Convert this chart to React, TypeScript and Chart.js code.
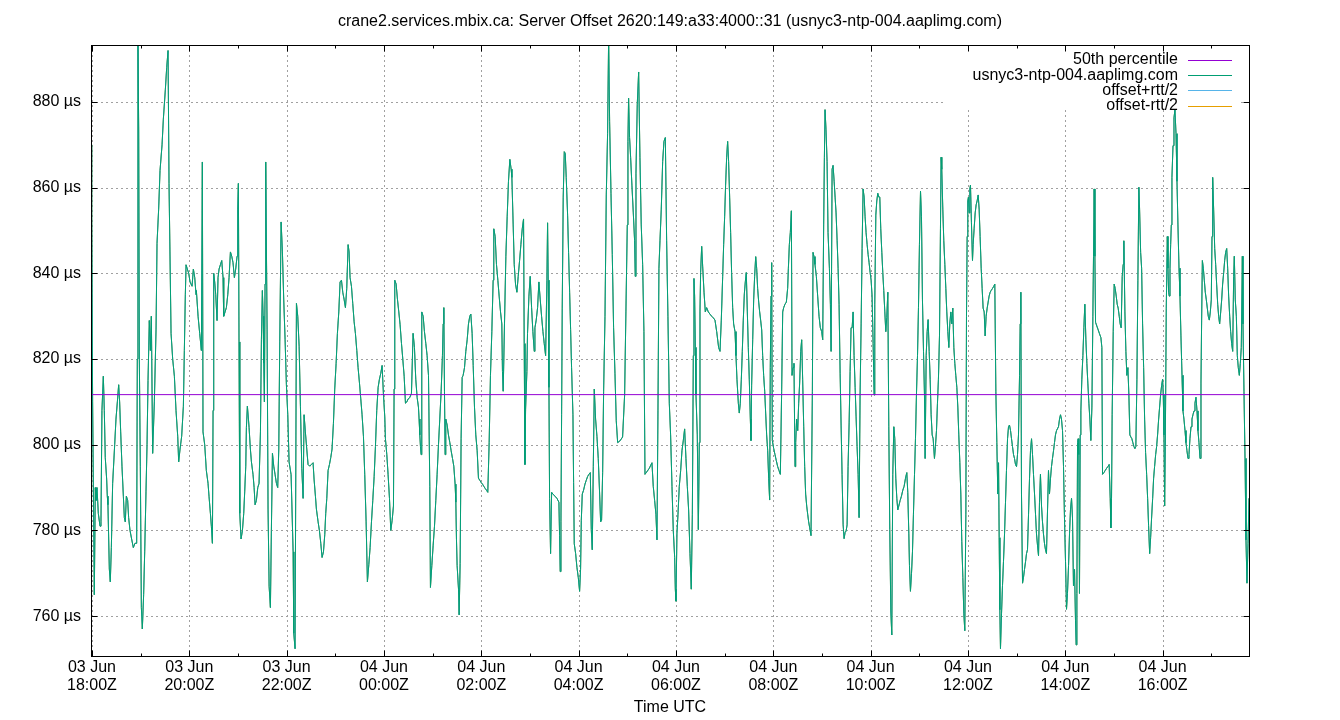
import React, { useEffect, useRef } from "react";
import { Chart, registerables } from "chart.js";

Chart.register(...registerables);

const TITLE =
  "crane2.services.mbix.ca: Server Offset 2620:149:a33:4000::31 (usnyc3-ntp-004.aaplimg.com)";
const X_TITLE = "Time UTC";
const SERIES_NAMES = [
  "50th percentile",
  "usnyc3-ntp-004.aaplimg.com",
  "offset+rtt/2",
  "offset-rtt/2",
];
const SERIES_COLORS = ["#9400d3", "#009e73", "#56b4e9", "#e69f00"];
const FONT = '"Liberation Sans", Arial, Helvetica, sans-serif';

// 50th percentile of the offset, µs
const P50 = 811.7;

// y axis
const Y_MIN = 750.7;
const Y_MAX = 893.3;
const Y_TICKS = [760, 780, 800, 820, 840, 860, 880];

// x axis: minutes since 03 Jun 18:00Z
const X_TICK_MINUTES = [0, 120, 240, 360, 480, 600, 720, 840, 960, 1080, 1200, 1320];
const X_TICK_LABELS = [
  ["03 Jun", "18:00Z"],
  ["03 Jun", "20:00Z"],
  ["03 Jun", "22:00Z"],
  ["04 Jun", "00:00Z"],
  ["04 Jun", "02:00Z"],
  ["04 Jun", "04:00Z"],
  ["04 Jun", "06:00Z"],
  ["04 Jun", "08:00Z"],
  ["04 Jun", "10:00Z"],
  ["04 Jun", "12:00Z"],
  ["04 Jun", "14:00Z"],
  ["04 Jun", "16:00Z"],
];
const X_MINOR_MINUTES = [60, 180, 300, 420, 540, 660, 780, 900, 1020, 1140, 1260, 1380];

// offset samples: [minutes since 03 Jun 18:00Z, offset µs]
const segA = [[-1.2,828],[-0.8,870],[0,853],[0.8,810],[2.9,765],[4.1,790],[4.9,787],[6.2,790],[7.8,784],[9.9,781],[11.1,782],[12.3,808],[14.0,816],[15.2,808],[16.4,797],[18.1,792],[18.9,788],[19.7,786],[21.4,771],[22.6,768],[23.9,776],[25.5,791],[28.0,800],[29.6,806],[31.3,810],[32.9,814],[34.1,810],[35.4,803],[37.0,795],[38.7,788],[39.9,783],[41.1,782],[42.4,788],[44.0,787],[45.2,783],[46.9,780],[48.9,778],[51.0,776],[53.0,777],[55.1,777],[55.9,820],[56.7,895],[57.6,873],[58.4,820],[59.6,795],[60.9,762],[62.1,757],[63.7,765],[65.0,775],[66.6,789],[67.9,800],[69.1,815],[70.7,829],[72.0,822],[73.2,830],[74.8,798],[76.9,810],[79.0,827],[80.2,847],[82.2,855],[83.9,864],[86.4,870],[88.0,876],[90.5,883],[92.1,888],[93.8,892],[95.0,861],[97.5,826],[99.5,820],[101.6,816],[103.6,808],[105.7,802],[106.9,796],[108.6,799],[110.6,802],[112.7,809],[113.9,822],[115.1,835],[116.0,842],[117.6,841],[119.3,840],[120.9,838],[123.4,837],[125.0,841],[126.7,839],[128.3,835]];
const segB = [[128.7,836],[130.8,830],[132.8,826],[134.9,822],[136.1,866],[136.9,803],[139.0,800],[141.0,794],[143.1,791],[144.3,788],[146.0,784],[147.2,781],[148.5,777],[149.3,808],[150.1,840],[151.3,838],[152.6,835],[154.2,829],[155.4,839],[156.7,841],[158.3,842],[160.0,843],[161.6,839],[162.4,830],[164.1,831],[165.7,832],[167.4,835],[169.0,839],[170.7,845],[172.3,844],[173.9,842.5],[175.6,839],[177.2,841],[178.9,844],[179.7,855],[180.5,861],[181.3,824],[182.2,784],[183.8,778],[185.5,780],[187.1,784],[188.3,789],[189.6,795],[190.4,804],[191.6,809],[192.9,806],[193.7,804],[195.3,799],[196.6,796],[198.6,793],[199.9,790],[201.1,786],[202.7,787],[204.4,790],[206.0,791],[207.7,803],[208.9,824.5],[210.1,836],[211.0,830],[211.8,819],[212.6,810],[213.4,837.5],[214.2,866],[215.9,827],[217.1,785],[218.4,767],[220.0,762],[221.2,780],[222.5,798],[224.1,795],[225.8,793],[227.4,791],[229.0,790],[230.3,799],[231.5,824],[233.2,852],[234.8,845],[236.4,834],[238.1,824.5],[239.7,814],[241.4,807],[243.0,796],[245.5,793],[248.0,775],[248.8,756],[250.4,752.4],[252.1,833],[253.7,830],[255.4,823],[257.0,809],[258.7,794.5],[260.3,787.5]];
const segC = [[261.5,807],[263.1,803],[264.8,799],[266.4,795.4],[268.5,795],[270.5,795.4],[272.6,795.8],[273.8,792],[275.5,788],[276.7,785],[278.8,782],[280.4,780],[282.1,777],[283.7,773.7],[285.4,775],[287.0,779],[288.2,784],[289.5,787.5],[291.1,794],[292.8,795.4],[294.4,797],[296.0,799],[297.7,805],[299.3,813],[301.0,819],[302.6,826],[304.3,831],[305.9,838],[307.6,838.4],[309.2,835.6],[310.8,834],[312.5,832],[314.1,836.5],[315.8,846.7],[317.0,845],[318.2,839],[319.9,837],[321.5,833],[323.2,828.7],[324.8,826],[326.5,822],[328.1,818],[329.8,814.4],[331.4,810.7],[333.0,807],[334.7,802],[336.3,793],[338.0,782],[339.6,768],[341.3,772],[342.9,776],[344.6,782],[346.2,787],[347.9,792.6],[349.5,799.6],[351.1,808],[352.8,813.4],[354.4,815.3],[356.1,816.7],[357.7,818.5],[359.4,811.6],[361.0,806.5],[361.8,801.4],[363.5,797.7],[365.1,793],[366.8,787.5],[368.4,780],[370.1,782.4],[371.7,785.7],[372.5,813],[373.3,838.4],[375.0,837.5],[376.6,834],[378.3,831],[379.9,828],[381.6,823.6],[383.2,820],[384.9,816],[386.5,809.7],[388.2,810],[389.8,810.7]];
const segD = [[391.8,811],[393.9,812],[395.9,826],[397.6,822.7],[399.2,815.3],[400.9,811],[402.5,808.8],[403.3,806],[404.2,802.3],[405.0,799.6],[405.8,797.7],[406.6,831],[408.3,830],[409.9,826.4],[411.6,823.6],[413.2,820.8],[414.9,816.2],[416.5,790.3],[417.3,766.7],[419.0,771.8],[420.6,776.4],[422.3,781],[423.9,787],[425.5,793],[427.2,800],[428.8,806],[430.5,812.5],[432.1,820.8],[433.0,828.2],[433.8,832],[434.6,812.5],[435.4,797.7],[436.2,806],[437.9,804.6],[439.5,802.3],[441.2,800.5],[442.8,798.6],[444.5,796.8],[446.1,795],[447.7,790.8],[448.6,786.6],[449.4,777.8],[450.2,771.8],[451.9,766.3],[452.7,760.3],[453.9,772.3],[455.1,801.4],[456.4,815.7],[457.6,816.2],[459.3,818],[460.9,821.8],[462.6,824.5],[464.2,828.2],[465.8,830],[467.1,830.5],[468.7,826],[470.0,818.5],[471.6,808.8],[473.2,802.3],[474.9,798.6],[476.5,792.2],[478.2,791.7],[479.8,791.2],[481.5,790.8],[483.1,790.3],[484.8,789.8],[486.4,789.4],[488.0,788.9],[489.7,800.5],[491.3,816.2],[493.0,826.4],[494.6,838.4],[495.4,850.4],[497.1,848.6],[498.7,842.1],[500.4,838.4],[502.0,834.7],[503.7,831],[505.3,828.2],[506.1,817.1],[507.0,812.5],[508.6,828.2],[510.3,844],[511.9,853.2],[513.5,861.5],[515.2,866.6],[516.8,864.3],[517.7,862.4],[519.3,851.3]];
const segE = [[520.6,842.1],[522.2,837.5],[523.9,835.6],[525.5,839.3],[527.2,843],[528.8,846.7],[530.5,850.4],[532.1,852.7],[532.9,823.6],[533.8,795.4],[534.6,808.3],[536.2,817.1],[537.0,826],[538.7,834.7],[540.3,839.3],[542.0,832],[543.6,826.4],[545.3,821.8],[546.1,827.3],[547.7,829.1],[549.4,832],[551.0,838],[552.7,833.8],[554.3,830],[556.0,826.4],[557.6,823.6],[559.3,820.8],[560.9,838.4],[561.7,851.8],[562.5,838.4],[563.4,813.4],[564.2,787.5],[565.4,774.6],[566.7,788.9],[568.3,788.5],[570.8,788],[573.2,787.5],[575.7,786.6],[576.5,778.8],[577.3,770.4],[578.2,782],[579.0,807],[579.8,831.9],[581.0,857.8],[582.3,868.4],[583.5,868],[584.7,862.4],[586.4,853.6],[587.6,844.9],[588.9,835.6],[590.1,826.9],[591.3,818],[593.0,807],[593.8,791.2],[594.6,776.9],[596.3,774.6],[597.9,771.4],[599.6,769],[601.2,765.8],[602.4,770.9],[603.3,782.4],[604.5,788.5],[606.1,789.4],[607.8,790.8],[609.4,791.7],[611.1,792.6],[612.7,793.1],[614.4,793.5],[615.6,780.2],[616.8,775.5],[618.1,794.9],[619.3,813],[620.9,806],[622.6,801.9],[624.2,796.8],[625.9,788.5],[627.1,782],[628.3,782.4],[629.6,793.5],[630.8,812.5],[632.5,830],[634.1,858.3],[635.7,872.6],[637.0,895],[638.2,875.4],[639.9,858.7],[641.5,844.4],[643.1,827.3],[644.8,816.7],[646.4,805.6],[648.1,800.5]];
const segF = [[650.9,800.9],[654.2,801.8],[656.7,811.6],[658.3,831],[660.0,851.3],[660.8,870.8],[661.6,880.9],[662.8,871.7],[664.1,867.1],[665.7,860.6],[667.4,854.1],[669.0,847.6],[669.8,839.3],[670.7,863.4],[672.3,879.5],[674.0,887],[675.6,867.1],[677.2,851.3],[678.9,842.1],[680.5,826.4],[681.8,793.1],[687.1,794.5],[690.4,795.8],[692.0,790.3],[693.7,787],[695.3,783.8],[696.6,777.8],[697.8,807.9],[699.0,841.2],[700.3,847.6],[701.9,855],[703.6,866.1],[705.2,870.8],[706.9,871.7],[708.5,847.6],[710.1,830],[711.8,809.7],[713.4,802.3],[715.1,790.3],[716.7,780],[718.4,773.7],[719.2,766.3],[720.0,763.5],[721.2,779.2],[722.5,783.8],[724.1,790.3],[725.8,794],[727.4,798.6],[729.0,800.9],[730.7,803.7],[732.3,796.8],[734.0,790.3],[735.6,784.8],[737.3,774.6],[738.9,766.3],[740.2,783.8],[741.4,820.8],[742.2,838.8],[743.0,834.7],[743.9,822.7],[744.7,811.6],[746.3,802.3],[747.6,780.2],[748.8,800.5],[749.6,831],[750.4,840.2],[751.7,846.3],[752.9,841.7],[754.6,835.6],[756.2,831],[757.8,832],[759.9,831],[761.9,830.5],[764.0,830],[766.1,829.6],[768.1,829.1],[770.2,826.4],[772.6,822.7],[774.3,821.8],[775.9,829.1],[777.6,839.3]];
const segG = [[778.8,846.7],[780.0,853.2],[781.2,860.6],[782.5,867.1],[783.7,870.8],[784.9,866.1],[786.2,857.8],[787.4,849.5],[788.6,840.2],[789.9,832],[791.1,828.2],[792.8,826.4],[794.0,820.8],[795.2,815.3],[796.9,809.7],[798.1,807.4],[799.3,809.7],[800.6,815.3],[801.8,821.8],[803.0,829.1],[804.3,835.2],[805.5,838],[806.7,840.2],[808.0,831],[809.2,822.7],[810.4,815.3],[811.7,806],[812.5,801],[813.3,813.9],[814.6,824.5],[815.8,833.8],[817.0,839.3],[818.3,843.9],[819.5,841.2],[820.7,836.5],[822.0,833.3],[823.2,831],[824.4,829.1],[825.7,826.8],[826.9,820.8],[828.1,816.2],[829.4,812.5],[830.6,807.4],[831.8,802.3],[833.1,798.6],[834.3,792.2],[835.5,787.1],[836.3,818],[837.2,834.7],[838.0,842.5],[838.8,801],[840.5,799.1],[842.1,797.7],[843.7,796.3],[845.4,794.9],[847.0,794],[848.7,793.1],[850.3,812.5],[851.6,831],[852.8,832],[854.4,832.8],[856.1,833.3],[857.7,836.5],[858.6,841.2],[859.8,846.7],[861.0,849.5],[862.3,854.6],[863.1,816.2],[864.3,818],[865.5,819],[866.8,794.9],[867.6,800.5],[868.8,806],[870.1,803.3],[871.3,809.7],[872.5,814.4],[873.8,821.8],[875.0,824.5],[876.2,815.3],[877.5,804.2],[878.7,794.9],[879.9,788.5],[881.2,785.7],[882.4,783.8],[883.6,782],[884.9,780.6],[886.5,778.8],[888.2,812.5],[889.0,844.9],[890.2,843.9],[891.4,842.1],[893.1,839.3],[894.7,834.7],[896.4,830],[898.0,827.3],[899.7,826.4],[900.9,824.5],[902.1,851.3],[903.0,867.1],[903.8,878.2],[905.0,873.5],[906.3,866.1],[907.5,849.5]];
const segH = [[909.2,841.2],[910.4,832.8],[911.3,821.8],[912.5,864.3],[913.7,865.2],[915.0,861.5],[916.2,857.8],[917.4,854.1],[918.7,847.6],[919.9,841.2],[921.1,832.8],[922.4,816.7],[923.6,804.6],[924.8,793.1],[926.1,781.3],[927.3,778.1],[928.5,779.5],[929.8,779.9],[931.0,781.3],[932.2,794.9],[933.5,805.1],[934.7,817.1],[935.9,827.3],[937.2,827.3],[938.4,831],[939.6,820.8],[940.9,813.4],[942.1,806.5],[943.3,799.6],[944.6,793.1],[945.8,783],[947.0,811.6],[948.3,828.2],[949.5,845.8],[950.7,859.7],[952.0,857.8],[953.2,853.2],[954.4,849.5],[955.7,846.7],[956.9,844.4],[958.1,842.5],[959.4,840.2],[960.6,838.4],[961.8,834.7],[963.1,823.6],[964.3,811.6],[965.1,832.8],[966.4,853.6],[967.6,856.9],[968.8,858.7],[970.1,857.8],[971.3,857.8],[972.5,850.4],[973.8,844.9],[975.0,840.2],[976.2,836],[977.5,831],[978.7,826.4],[979.9,829.7],[981.2,835.6],[982.4,804.2],[983.6,780.2],[984.9,761.2],[986.1,755.6],[987.3,793.1],[988.6,804.2],[989.8,801.4],[991.0,792.2],[992.3,787.5],[993.5,784.8],[994.7,785.7],[996.4,787],[998.0,788],[999.7,789.4],[1001.3,790.3],[1003.0,792.2],[1004.6,793.5],[1005.8,788.9],[1007.1,779.2],[1007.9,771.8],[1009.1,765.8],[1010.4,770],[1011.6,775],[1012.8,783.8],[1014.1,793.1],[1015.3,801.4],[1016.5,811.6],[1017.8,820.8],[1019.0,832],[1020.2,846.7],[1021.5,859.2],[1022.7,853.2],[1023.9,833.8],[1025.2,821.8],[1026.4,811.6],[1027.2,796.8],[1028.5,820.8],[1029.7,826.4],[1030.9,829.2],[1032.2,821.8],[1033.4,815.3],[1034.6,807],[1035.9,802.3],[1037.1,801.4]];
const segI = [[1038.7,796.8],[1039.9,799.6],[1041.2,803.3],[1042.4,809.7],[1043.6,815.3],[1044.9,825.4],[1046.1,850.4],[1046.9,867.1],[1047.7,864.3],[1049.0,855],[1050.2,847.6],[1051.5,842.1],[1052.7,836.5],[1053.9,831],[1055.2,826.4],[1056.4,822.7],[1057.6,828.2],[1058.9,831],[1060.1,828.2],[1061.3,831.9],[1062.6,822.7],[1063.8,819],[1065.0,816.2],[1066.3,813.4],[1067.5,808.8],[1068.7,802.3],[1070.0,795.8],[1071.2,788.5],[1072.4,777.4],[1073.7,769],[1074.9,760.7],[1076.1,756.6],[1077.4,783.8],[1078.2,830],[1079.0,848.6],[1079.8,856.9],[1080.6,857.8],[1081.5,854.1],[1082.3,859.7],[1083.1,860.6],[1084.3,851.8],[1085.6,843],[1086.4,846.7],[1087.6,850.4],[1088.9,854.1],[1090.1,856],[1091.3,856.9],[1092.6,858.3],[1093.8,855],[1095.0,848.6],[1096.3,841.2],[1097.5,836.5],[1098.7,831.9],[1100.0,831],[1101.2,825.4],[1102.4,830],[1103.7,831.9],[1104.9,833.3],[1106.1,834.7],[1107.4,835.6],[1108.6,836],[1110.3,836.5],[1111.9,837],[1113.1,837.5],[1114.4,812.5],[1115.6,800.5],[1116.8,788.5],[1117.7,795.8],[1118.5,778.3],[1119.3,761.5],[1120.1,752.4],[1121.4,760.7],[1122.6,767.2],[1123.8,772.7],[1125.1,779.2],[1126.3,786.6],[1127.5,794],[1128.8,801.4],[1130.0,804.2],[1131.2,804.6],[1132.5,803.3],[1133.7,801.4],[1134.9,799.6],[1136.2,797.7],[1137.4,796.8],[1138.6,795.4],[1139.9,794.9],[1141.1,797.7],[1142.3,802.3],[1143.6,816.2],[1144.4,828.2],[1145.2,835.6],[1146.0,788.5],[1147.3,767.7],[1148.5,769.1],[1149.7,770.9],[1151.0,772.7],[1152.2,774.6],[1153.4,775.5],[1154.7,783.8],[1155.9,792.2],[1157.1,798.6],[1158.4,801.4],[1159.6,797.7],[1160.8,793.1],[1162.1,788.5],[1163.3,783.8],[1164.5,779.2],[1165.8,776.4]];
const segJ = [[1167.0,774.1],[1168.2,786.6],[1169.4,793.1],[1170.7,785.7],[1171.9,782],[1173.1,779.2],[1174.4,776.9],[1175.6,775.5],[1176.8,774.6],[1179.3,794],[1180.5,788.5],[1181.8,792.2],[1183.0,794.9],[1184.2,796.8],[1185.5,798.6],[1186.7,800.5],[1187.9,802.3],[1189.2,803.3],[1191.6,804.2],[1192.9,806],[1194.1,807],[1195.3,806],[1196.6,803.3],[1197.8,794.9],[1199.0,782.9],[1200.3,772.7],[1201.5,761.6],[1202.7,765.3],[1204.0,771.8],[1205.2,779.2],[1206.4,784.8],[1207.7,787.5],[1208.9,782.9],[1210.1,767.1],[1211.4,770.9],[1212.6,758.9],[1213.4,753.3],[1214.3,765.3],[1215.1,800.5],[1215.9,801.4],[1216.7,797.7],[1217.5,765.3],[1218.4,802.3],[1219.2,807.9],[1220.4,815.3],[1221.7,820.8],[1222.9,827.3],[1224.1,832.8],[1225.4,824.5],[1226.6,819],[1227.8,814.4],[1229.1,809.7],[1230.3,806],[1231.5,801],[1232.8,808.8],[1234.0,830],[1234.8,844],[1235.6,859.7],[1236.5,844],[1237.3,828.6],[1238.9,827.7],[1240.6,826.8],[1242.2,825.9],[1243.9,825],[1245.1,822.7],[1245.9,793.1],[1247.6,793.5],[1249.2,794],[1250.9,794.5],[1252.5,794.9],[1254.1,795.4],[1255.4,787.5],[1256.2,780.6],[1257.0,787.5],[1257.8,807],[1259.1,826.4],[1260.3,837.5],[1261.5,836.5],[1262.8,834.7],[1264.0,832.8],[1265.2,831.9],[1266.5,830],[1267.7,828.2],[1268.9,827.3],[1270.2,839.3],[1271.4,842.1],[1272.2,847.6],[1273.5,831],[1274.7,821.8],[1275.9,816.2],[1277.2,818],[1278.4,811.6],[1279.6,802.3],[1280.9,801.8],[1282.1,801.4],[1283.3,800.5],[1284.6,799.6],[1285.8,799.1],[1287.0,799.6],[1288.3,815.3],[1289.5,838.4],[1290.7,860.1]];
const segK = [[1291.6,855],[1292.9,844.9],[1294.1,841.2],[1295.3,828.2],[1296.6,818],[1297.8,806],[1299.0,798.2],[1300.3,793.1],[1301.5,787.5],[1302.7,781.1],[1304.0,774.6],[1305.2,778.3],[1306.4,782.9],[1307.7,787.5],[1308.9,792.2],[1310.1,794.9],[1311.4,797.7],[1312.6,799.6],[1313.8,802.3],[1315.1,806],[1316.3,808.8],[1317.5,811.6],[1318.8,813.9],[1320.0,815.3],[1320.8,811.6],[1321.7,802.3],[1322.5,785.7],[1323.3,799.6],[1324.5,831.9],[1325.8,848.6],[1326.6,841.2],[1327.4,835.6],[1328.2,834.7],[1329.1,841.2],[1329.9,846.7],[1330.7,851.3],[1331.5,862.4],[1332.8,869.8],[1334.0,876.3],[1335.2,878.2],[1336.5,872.6],[1337.7,861.5],[1338.9,851.3],[1340.2,841.2],[1341.4,834.7],[1342.6,825.4],[1343.9,816.2],[1345.1,807.9],[1346.3,806],[1347.6,803.3],[1348.8,800.5],[1350.0,798.6],[1351.3,796.8],[1352.5,797.7],[1353.7,801.4],[1355.0,804.2],[1356.2,806],[1357.4,807],[1358.7,807.9],[1359.9,809.7],[1361.1,811.1],[1362.4,807.9],[1363.6,803.3],[1364.8,800.5],[1366.1,796.8],[1367.3,814.4],[1368.1,829.1],[1369.0,843],[1370.2,841.2],[1371.4,838.4],[1372.6,835.6],[1373.9,833.8],[1375.1,831.9],[1376.3,830],[1377.6,829.1],[1378.8,831],[1380.0,833.8],[1380.9,848.6],[1381.7,862.4],[1382.9,855],[1384.2,845.8],[1385.4,842.1],[1386.6,837.5],[1387.9,832.8],[1389.1,830],[1390.3,828.2],[1391.6,831],[1392.8,833.8],[1394.0,837.5],[1395.3,840.2],[1396.5,843],[1397.7,844.9],[1399.0,845.8],[1400.2,841.2],[1401.4,834.7],[1402.7,830],[1403.9,826.4],[1405.1,823.6],[1406.4,821.8],[1407.6,839.3],[1408.4,844],[1409.6,833.8],[1410.9,830],[1412.1,820.8],[1413.3,818],[1414.6,816.2],[1415.8,819],[1417.0,822.7],[1418.3,844],[1419.1,828.2],[1420.3,812.5],[1421.6,796.8],[1422.8,777.8],[1424.0,767.7],[1425.3,776.9],[1426.5,787.5]];

const SAMPLES: number[][] = [segA, segB, segC, segD, segE, segF, segG, segH, segI, segJ, segK].flat();

const LEGEND_BOX = { left: 943, right: 1238, top: 46, bottom: 109 };

export default function App() {
  const canvasRef = useRef<HTMLCanvasElement | null>(null);

  useEffect(() => {
    const canvas = canvasRef.current;
    if (!canvas) return;

    const pts = SAMPLES.map((p) => ({ x: p[0], y: p[1] }));
    const tMin = SAMPLES[0][0];
    const tMax = SAMPLES[SAMPLES.length - 1][0];

    const framePlugin = {
      id: "gnuplotFrame",
      beforeDatasetsDraw(chart: any) {
        const { ctx, chartArea: a, scales } = chart;
        const xs = scales.x;
        const ys = scales.y;
        ctx.save();
        ctx.strokeStyle = "#a0a0a0";
        ctx.lineWidth = 1;
        ctx.setLineDash([2, 3]);
        ctx.beginPath();
        for (const v of Y_TICKS) {
          const py = Math.round(ys.getPixelForValue(v)) + 0.5;
          ctx.moveTo(a.left, py);
          ctx.lineTo(a.right, py);
        }
        for (const m of X_TICK_MINUTES) {
          const px = Math.round(xs.getPixelForValue(m)) + 0.5;
          ctx.moveTo(px, a.top);
          ctx.lineTo(px, a.bottom);
        }
        ctx.stroke();
        ctx.restore();
      },
      afterDatasetsDraw(chart: any) {
        const { ctx, chartArea: a, scales } = chart;
        const xs = scales.x;
        const ys = scales.y;
        ctx.save();
        // opaque key box
        ctx.fillStyle = "#ffffff";
        ctx.fillRect(
          LEGEND_BOX.left,
          LEGEND_BOX.top,
          LEGEND_BOX.right - LEGEND_BOX.left,
          LEGEND_BOX.bottom - LEGEND_BOX.top
        );
        // key entries
        ctx.font = `16px ${FONT}`;
        ctx.textAlign = "right";
        ctx.textBaseline = "middle";
        SERIES_NAMES.forEach((name, i) => {
          const cy = 60 + i * 15.2;
          ctx.fillStyle = "#000";
          ctx.fillText(name, 1178, cy);
          ctx.strokeStyle = SERIES_COLORS[i];
          ctx.lineWidth = 1;
          ctx.beginPath();
          ctx.moveTo(1188, Math.round(cy) + 0.5);
          ctx.lineTo(1232, Math.round(cy) + 0.5);
          ctx.stroke();
        });
        // border
        ctx.strokeStyle = "#000";
        ctx.lineWidth = 1;
        ctx.setLineDash([]);
        const L = Math.round(a.left) + 0.5;
        const R = Math.round(a.right) + 0.5;
        const T = Math.round(a.top) + 0.5;
        const B = Math.round(a.bottom) + 0.5;
        ctx.strokeRect(L, T, R - L, B - T);
        // ticks (inward, mirrored)
        ctx.beginPath();
        const major = 6;
        const minor = 3;
        for (const v of Y_TICKS) {
          const py = Math.round(ys.getPixelForValue(v)) + 0.5;
          ctx.moveTo(L, py);
          ctx.lineTo(L + major, py);
          ctx.moveTo(R, py);
          ctx.lineTo(R - major, py);
        }
        for (const m of X_TICK_MINUTES) {
          const px = Math.round(xs.getPixelForValue(m)) + 0.5;
          ctx.moveTo(px, B);
          ctx.lineTo(px, B - major);
          ctx.moveTo(px, T);
          ctx.lineTo(px, T + major);
        }
        for (const m of X_MINOR_MINUTES) {
          if (m > tMax) continue;
          const px = Math.round(xs.getPixelForValue(m)) + 0.5;
          ctx.moveTo(px, B);
          ctx.lineTo(px, B - minor);
          ctx.moveTo(px, T);
          ctx.lineTo(px, T + minor);
        }
        ctx.stroke();
        // title
        ctx.fillStyle = "#000";
        ctx.textAlign = "center";
        ctx.textBaseline = "middle";
        ctx.font = `16px ${FONT}`;
        ctx.fillText(TITLE, 670, 22);
        ctx.restore();
      },
    };

    const lineBase = {
      borderWidth: 1,
      pointRadius: 0,
      tension: 0,
      fill: false,
      borderJoinStyle: "bevel" as const,
    };

    const chart = new Chart(canvas, {
      type: "line",
      data: {
        datasets: [
          {
            ...lineBase,
            label: SERIES_NAMES[0],
            data: [
              { x: tMin, y: P50 },
              { x: tMax, y: P50 },
            ],
            borderColor: SERIES_COLORS[0],
            order: 0,
          },
          {
            ...lineBase,
            label: SERIES_NAMES[1],
            data: pts,
            borderColor: SERIES_COLORS[1],
            order: 1,
          },
          {
            ...lineBase,
            label: SERIES_NAMES[2],
            data: pts,
            borderColor: SERIES_COLORS[2],
            order: 2,
          },
          {
            ...lineBase,
            label: SERIES_NAMES[3],
            data: pts,
            borderColor: SERIES_COLORS[3],
            order: 3,
          },
        ],
      },
      options: {
        responsive: false,
        animation: false,
        events: [],
        layout: { padding: { left: 0, right: 91, top: 45, bottom: 0 } },
        plugins: {
          legend: { display: false },
          title: { display: false },
          tooltip: { enabled: false },
        },
        scales: {
          x: {
            type: "linear",
            min: tMin,
            max: tMax,
            grid: { display: false, drawTicks: false },
            border: { display: false },
            afterBuildTicks: (s: any) => {
              s.ticks = X_TICK_MINUTES.map((v) => ({ value: v }));
            },
            afterFit: (s: any) => {
              s.height = 64;
            },
            ticks: {
              autoSkip: false,
              maxRotation: 0,
              minRotation: 0,
              padding: 3,
              color: "#000",
              font: { family: FONT, size: 16, lineHeight: 1.125 },
              callback: (v: any) => {
                const i = X_TICK_MINUTES.indexOf(Number(v));
                return i >= 0 ? X_TICK_LABELS[i] : "";
              },
            },
            title: {
              display: true,
              text: X_TITLE,
              color: "#000",
              font: { family: FONT, size: 16, lineHeight: 1.2 },
              padding: { top: 0, bottom: 3 },
            },
          },
          y: {
            type: "linear",
            min: Y_MIN,
            max: Y_MAX,
            grid: { display: false, drawTicks: false },
            border: { display: false },
            afterBuildTicks: (s: any) => {
              s.ticks = Y_TICKS.map((v) => ({ value: v }));
            },
            afterFit: (s: any) => {
              s.width = 91;
            },
            ticks: {
              padding: 10,
              color: "#000",
              font: { family: FONT, size: 16 },
              callback: (v: any) => `${v} \u00b5s`,
            },
          },
        },
      },
      plugins: [framePlugin],
    } as any);

    return () => chart.destroy();
  }, []);

  return (
    <div
      style={{
        position: "absolute",
        left: 0,
        top: 0,
        width: 1340,
        height: 720,
        background: "#fff",
      }}
    >
      <canvas
        ref={canvasRef}
        width={1340}
        height={720}
        style={{ display: "block", width: 1340, height: 720 }}
      />
    </div>
  );
}
